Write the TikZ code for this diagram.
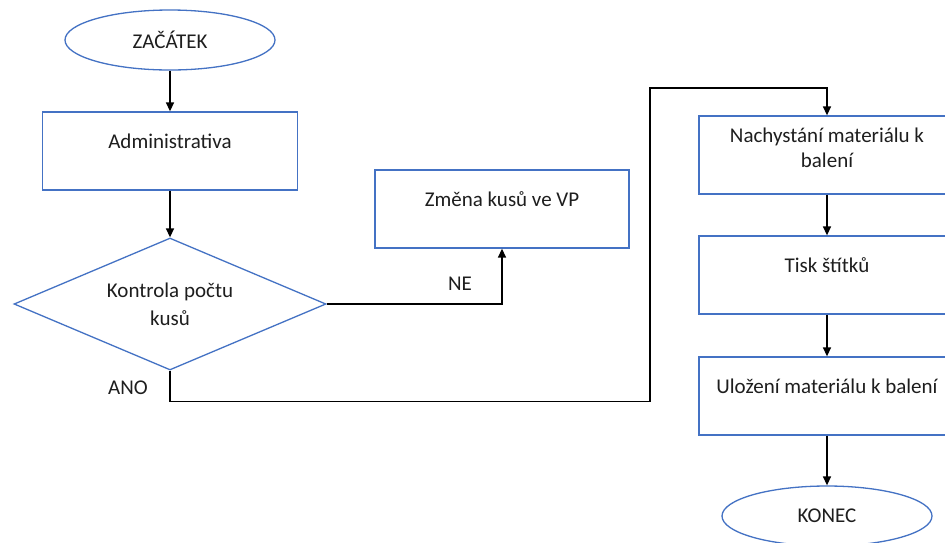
\documentclass[tikz,border=0pt]{standalone}
\usepackage{fontspec}
\setmainfont{Carlito}
\usetikzlibrary{arrows.meta, shapes.geometric, positioning}
\definecolor{flowblue}{HTML}{4472C4}
\definecolor{txtgray}{HTML}{1E1E1E}

\begin{document}
\begin{tikzpicture}[
  x=1pt, y=-1pt,
  >={Triangle[length=9pt, width=8pt]},
  every node/.style={font=\fontsize{21}{25}\selectfont, text=txtgray},
  procbox/.style={draw=flowblue, line width=1.3pt, minimum width=255pt,
    inner xsep=4pt, inner ysep=0pt, text height=36pt, text depth=42pt, align=center},
  termin/.style={ellipse, draw=flowblue, line width=1.3pt,
    minimum width=210pt, minimum height=60pt, inner sep=0pt},
  decis/.style={diamond, draw=flowblue, line width=1.3pt, aspect=2.36,
    minimum width=312pt, minimum height=132pt, inner sep=0pt, align=center,
    font=\fontsize{21}{28}\selectfont},
  flow/.style={->, line width=1.4pt, black},
]

% Page
\useasboundingbox (0,0) rectangle (945,542);
\fill[white] (0,0) rectangle (945,542);

% === Left column ===
\node[termin] (start) at (170,40) {ZAČÁTEK};
\node[procbox] (admin) at (170,151) {Administrativa};
\node[decis] (check) at (170,304) {Kontrola počtu\\kusů};

% === Correction branch ===
\node[procbox, minimum width=254pt] (change) at (502,209) {Změna kusů ve VP};

% === Right column ===
\node[procbox, minimum width=256pt, text height=51pt, text depth=27pt] (prep)
  at (827,155) {Nachystání materiálu k\\balení};
\node[procbox, minimum width=256pt] (print) at (827,275) {Tisk štítků};
\node[procbox, minimum width=256pt] (store) at (827,396) {Uložení materiálu k balení};
\node[termin] (stop) at (827,516) {KONEC};

% Branch labels
\node (no) at (460,284) {NE};
\node (yes) at (128,388) {ANO};

% Bend of the long connector
\coordinate (bend) at (650,88);

% === Connectors ===
\draw[flow] (start) -- (admin);
\draw[flow] (admin) -- (check);
\draw[flow] (check.east) -| (change.south);
\draw[flow] (check.south) -- ++(0,31) -| (bend) -| (prep.north);
\draw[flow] (prep) -- (print);
\draw[flow] (print) -- (store);
\draw[flow] (store) -- (stop);

\end{tikzpicture}
\end{document}
